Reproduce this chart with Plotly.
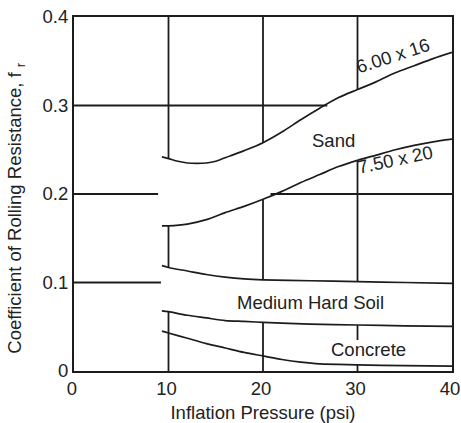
import plotly.graph_objects as go

# ---- data ----
pressure_6_00x16 = [9.3, 10, 11, 12, 13, 14, 15, 16.5, 18, 20, 22, 24, 26, 28, 30, 32, 34, 36, 38, 40]
fr_6_00x16 = [0.242, 0.240, 0.237, 0.235, 0.2345, 0.235, 0.237, 0.243, 0.249, 0.258, 0.270, 0.284,
              0.297, 0.309, 0.318, 0.327, 0.337, 0.345, 0.353, 0.360]

pressure_7_50x20 = [9.3, 10, 12, 14, 16, 18, 20, 22, 24, 26, 28, 30, 32, 34, 36, 38, 40]
fr_7_50x20 = [0.164, 0.164, 0.166, 0.171, 0.179, 0.186, 0.194, 0.203, 0.213, 0.222, 0.231, 0.238,
              0.244, 0.250, 0.255, 0.259, 0.262]

pressure_soil = [9.3, 10, 12, 14, 16, 18, 20, 25, 30, 35, 40]
fr_soil_upper = [0.119, 0.117, 0.113, 0.109, 0.106, 0.104, 0.103, 0.102, 0.101, 0.100, 0.099]
fr_soil_lower = [0.068, 0.067, 0.063, 0.060, 0.057, 0.056, 0.055, 0.053, 0.052, 0.051, 0.0505]

pressure_concrete = [9.3, 10, 12, 14, 16, 18, 20, 22, 24, 26, 30, 35, 40]
fr_concrete = [0.045, 0.043, 0.037, 0.031, 0.026, 0.021, 0.017, 0.013, 0.010, 0.008, 0.007, 0.006, 0.0055]

# broken grid segments: (x0, x1, y0, y1)
grid_segments = [
    (10, 10, 0.4, 0.240), (10, 10, 0.164, 0.117), (10, 10, 0.067, 0.0),
    (20, 20, 0.4, 0.258), (20, 20, 0.194, 0.103), (20, 20, 0.055, 0.0),
    (30, 30, 0.4, 0.318), (30, 30, 0.238, 0.101), (30, 30, 0.052, 0.035), (30, 30, 0.007, 0.0),
    (0, 26.8, 0.3, 0.3),
    (0, 8.9, 0.2, 0.2), (20.8, 40, 0.2, 0.2),
    (0, 9.2, 0.1, 0.1),
]

# labels: (text, x, y, angle)
labels = [
    ("6.00 x 16", 33.8, 0.356, -18),
    ("Sand", 27.5, 0.261, 0),
    ("7.50 x 20", 34.0, 0.2395, -12),
    ("Medium Hard Soil", 25.0, 0.0776, 0),
    ("Concrete", 31.2, 0.024, 0),
]

x_ticks = [0, 10, 20, 30, 40]
y_ticks = [0, 0.1, 0.2, 0.3, 0.4]
y_tick_text = ["0", "0.1", "0.2", "0.3", "0.4"]
x_title = "Inflation Pressure (psi)"
y_title = "Coefficient of Rolling Resistance, f <sub>r</sub>"

INK = "#1c1c1c"
FONT = "Liberation Sans, Arial, sans-serif"
FS = 18.5

fig = go.Figure()

for x0, x1, y0, y1 in grid_segments:
    fig.add_trace(go.Scatter(x=[x0, x1], y=[y0, y1], mode="lines",
                             line=dict(color=INK, width=1.8), hoverinfo="skip"))

for xs, ys in [(pressure_6_00x16, fr_6_00x16), (pressure_7_50x20, fr_7_50x20),
               (pressure_soil, fr_soil_upper), (pressure_soil, fr_soil_lower),
               (pressure_concrete, fr_concrete)]:
    fig.add_trace(go.Scatter(x=xs, y=ys, mode="lines",
                             line=dict(color=INK, width=1.7, shape="spline", smoothing=0.8)))

for text, x, y, ang in labels:
    fig.add_annotation(x=x, y=y, text=text, showarrow=False, textangle=ang,
                       font=dict(family=FONT, size=FS, color="#222"))

# y-axis title placed as rotated annotation
fig.add_annotation(xref="paper", yref="paper", x=-0.152, y=0.46, text=y_title,
                   showarrow=False, textangle=-90, xanchor="center", yanchor="middle",
                   font=dict(family=FONT, size=FS, color="#222"))

fig.update_layout(
    width=461, height=423,
    margin=dict(l=74, r=9, t=17, b=52),
    paper_bgcolor="white", plot_bgcolor="white",
    showlegend=False,
    font=dict(family=FONT, size=FS, color="#222"),
    xaxis=dict(range=[0, 40], tickvals=x_ticks, showgrid=False, zeroline=False,
               showline=True, mirror=True, linecolor=INK, linewidth=2, ticks="",
               ticklen=0, automargin=False, ticklabelshift=-2,
               title=dict(text=x_title, standoff=8, font=dict(family=FONT, size=FS))),
    yaxis=dict(range=[0, 0.4], tickvals=y_ticks, ticktext=y_tick_text, showgrid=False,
               zeroline=False, showline=True, mirror=True, linecolor=INK, linewidth=2,
               ticks="", ticklen=0, automargin=False),
)

fig.write_html("out.html", config={"displayModeBar": False},
               post_script="document.body.style.margin='0px';")
